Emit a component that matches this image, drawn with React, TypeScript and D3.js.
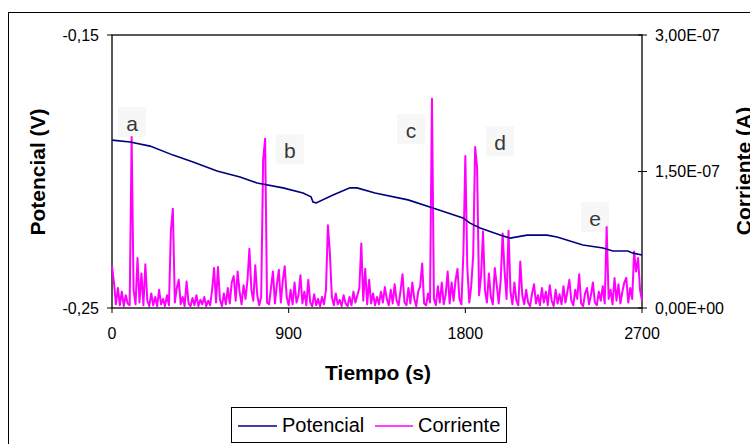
import React from "react";
import * as d3 from "d3";

// Potencial (V) vs tiempo (s)
const potTime = [0, 92, 194, 311, 413, 535, 652, 739, 871, 973, 1014, 1024, 1040, 1126, 1212, 1248, 1340, 1508, 1635, 1788, 1824, 1875, 1977, 2028, 2114, 2216, 2267, 2399, 2501, 2552, 2628, 2654, 2700];
const potValue = [-0.1885, -0.1892, -0.1907, -0.1940, -0.1965, -0.1998, -0.2020, -0.2042, -0.2060, -0.2079, -0.2093, -0.2112, -0.2115, -0.2086, -0.2060, -0.2060, -0.2079, -0.2104, -0.2134, -0.2170, -0.2189, -0.2207, -0.2233, -0.2244, -0.2233, -0.2233, -0.2240, -0.2269, -0.2280, -0.2291, -0.2291, -0.2299, -0.2306];

// Corriente (nA), one sample every 10 s from 0 to 2700 s
const currentStep = 10;
const currentNA = [
  46, 28, 4, 22, 3, 18, 2, 14, 5, 3,
  188, 20, 4, 55, 6, 38, 3, 48, 8, 2,
  16, 3, 12, 2, 20, 4, 10, 2, 14, 3,
  85, 109, 6, 22, 31, 4, 12, 2, 29, 5,
  2, 11, 3, 14, 2, 9, 4, 12, 2, 8,
  3, 20, 44, 6, 45, 9, 2, 16, 4, 22,
  5, 28, 35, 8, 40, 18, 4, 25, 10, 30,
  65, 20, 8, 47, 14, 3, 12, 163, 186, 6,
  4, 22, 40, 5, 26, 42, 6, 30, 46, 12,
  3, 20, 4, 28, 6, 14, 36, 5, 18, 3,
  31, 6, 2, 15, 3, 10, 2, 12, 4, 20,
  91, 60, 12, 3, 16, 4, 9, 2, 14, 5,
  2, 12, 3, 18, 6, 14, 22, 71, 8, 43,
  4, 31, 5, 16, 3, 12, 4, 18, 6, 23,
  10, 3, 20, 5, 26, 8, 3, 19, 37, 6,
  3, 22, 5, 28, 10, 2, 18, 24, 49, 5,
  3, 16, 6, 230, 10, 3, 24, 6, 28, 4,
  15, 40, 5, 28, 8, 30, 43, 10, 4, 60,
  167, 45, 6, 24, 58, 177, 154, 14, 35, 84,
  20, 6, 38, 12, 4, 44, 25, 5, 30, 82,
  40, 10, 85, 18, 4, 28, 8, 3, 51, 14,
  4, 20, 6, 2, 16, 26, 5, 14, 3, 22,
  6, 18, 3, 25, 8, 2, 20, 5, 15, 4,
  24, 6, 18, 31, 8, 3, 20, 10, 37, 5,
  2, 16, 22, 4, 14, 28, 6, 3, 18, 8,
  24, 5, 89, 10, 20, 4, 33, 8, 26, 5,
  18, 28, 33, 6, 22, 10, 62, 40, 55, 20,
  8,
];

const xTicks = [0, 900, 1800, 2700];
const leftTicks = [-0.25, -0.15];
const rightTicks = [0, 150, 300]; // nA

// peak labels: [label, time (s), potential (V) of the label baseline]
const peakLabels = ["a", "b", "c", "d", "e"];
const peakTimes = [102, 906, 1523, 1977, 2461];
const peakLevels = [-0.1852, -0.1951, -0.1878, -0.1922, -0.2200];

const fmtComma = (v: number) => v.toFixed(2).replace(".", ",");
const fmtSci = (nA: number) => {
  const [m, e] = (nA * 1e-9).toExponential(2).split("e");
  const n = Number(e);
  const exp = (n < 0 ? "-" : "+") + String(Math.abs(n)).padStart(2, "0");
  return m.replace(".", ",") + "E" + exp;
};

const App = () => {
  const W = 750;
  const H = 444;
  const left = 112;
  const right = 642;
  const top = 35;
  const bottom = 308;
  const font = "Arial, 'Liberation Sans', sans-serif";

  const x = d3.scaleLinear().domain([0, 2700]).range([left, right]);
  const yL = d3.scaleLinear().domain([-0.25, -0.15]).range([bottom, top]);
  const yR = d3.scaleLinear().domain([0, 300]).range([bottom, top]);

  const potLine = d3
    .line<number>()
    .x((_, i) => x(potTime[i]))
    .y((d) => yL(d));
  const curLine = d3
    .line<number>()
    .x((_, i) => x(i * currentStep))
    .y((d) => yR(d));

  return (
    <svg width={W} height={H} style={{ position: "absolute", left: 0, top: 0 }} fontFamily={font}>
      <rect x={0} y={0} width={W} height={H} fill="#fff" />
      <rect x={8.5} y={12.5} width={800} height={500} fill="none" stroke="#000" />

      {/* plot area */}
      <rect x={left} y={top} width={right - left} height={bottom - top} fill="none" stroke="#000" strokeWidth={1.3} />

      {/* peak labels */}
      {peakLabels.map((l, i) => (
        <g key={l}>
          <rect x={x(peakTimes[i]) - 14} y={yL(peakLevels[i]) - 24} width={28} height={30} fill="#f7f7f7" />
          <text x={x(peakTimes[i])} y={yL(peakLevels[i])} textAnchor="middle" fontSize={21} fill="#383838">
            {l}
          </text>
        </g>
      ))}

      <path d={curLine(currentNA) ?? ""} fill="none" stroke="#ff00ff" strokeWidth={2} strokeLinejoin="round" />
      <path d={potLine(potValue) ?? ""} fill="none" stroke="#000080" strokeWidth={1.6} />

      {/* x axis */}
      {xTicks.map((t) => (
        <g key={t}>
          <line x1={x(t)} x2={x(t)} y1={bottom} y2={bottom + 5} stroke="#000" />
          <text x={x(t)} y={339} textAnchor="middle" fontSize={16}>
            {t}
          </text>
        </g>
      ))}
      <text x={378} y={380} textAnchor="middle" fontSize={21} fontWeight="bold">
        Tiempo (s)
      </text>

      {/* left axis */}
      {leftTicks.map((t) => (
        <g key={t}>
          <line x1={left - 5} x2={left} y1={yL(t)} y2={yL(t)} stroke="#000" />
          <text x={99} y={yL(t) + 5.5} textAnchor="end" fontSize={16}>
            {fmtComma(t)}
          </text>
        </g>
      ))}
      <text transform={`translate(45,172) rotate(-90)`} textAnchor="middle" fontSize={21} fontWeight="bold">
        Potencial (V)
      </text>

      {/* right axis */}
      {rightTicks.map((t) => (
        <g key={t}>
          <line x1={right - 4} x2={right + 5} y1={yR(t)} y2={yR(t)} stroke="#000" />
          <text x={655} y={yR(t) + 5.5} fontSize={16}>
            {fmtSci(t)}
          </text>
        </g>
      ))}
      <text transform={`translate(751,171) rotate(-90)`} textAnchor="middle" fontSize={21} fontWeight="bold">
        Corriente (A)
      </text>

      {/* legend */}
      <rect x={231.5} y={407.5} width={275} height={35} fill="#fff" stroke="#000" />
      <line x1={238} x2={277} y1={426} y2={426} stroke="#000080" strokeWidth={1.6} />
      <text x={282} y={432} fontSize={20}>
        Potencial
      </text>
      <line x1={375} x2={413} y1={426} y2={426} stroke="#ff00ff" strokeWidth={1.6} />
      <text x={418} y={432} fontSize={20}>
        Corriente
      </text>
    </svg>
  );
};

export default App;
